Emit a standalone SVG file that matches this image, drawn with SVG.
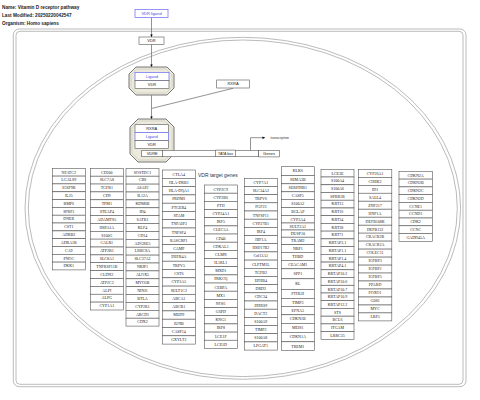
<svg xmlns="http://www.w3.org/2000/svg" width="480" height="400" viewBox="0 0 480 400">
<defs>
<marker id="arr" viewBox="0 0 6 6" refX="6" refY="3" markerWidth="3.2" markerHeight="3.2" orient="auto"><path d="M0,0 L6,3 L0,6 Z" fill="#000"/></marker>
<style>
.bg{fill:#fff}
.comp{fill:none;stroke:#aaa;stroke-width:0.8}
.cx{fill:#ebeadc;stroke:#777;stroke-width:1}
.cx2{fill:none;stroke:#c8c8bc;stroke-width:0.6}
.ln{fill:none;stroke:#777;stroke-width:0.8}
.bx{fill:#fff;stroke:#555;stroke-width:0.6}
.bl{fill:#fff;stroke:#7a7af0;stroke-width:0.8}
.st{font-family:"Liberation Sans",Arial,sans-serif;font-size:4px;text-anchor:middle;fill:#222}
.sb{font-family:"Liberation Sans",Arial,sans-serif;font-size:4px;text-anchor:middle;fill:#4a4ae0}
.hd{font-family:"Liberation Sans",Arial,sans-serif;font-size:4.7px;font-weight:bold;fill:#222}
.lb{font-family:"Liberation Sans",Arial,sans-serif;font-size:5px;fill:#333}
.tr{font-family:"Liberation Sans",Arial,sans-serif;font-size:3.4px;fill:#333}
.gn rect{fill:#fff;stroke:#555;stroke-width:0.6}
.gn text{font-family:"Liberation Serif","Times New Roman",serif;font-size:4px;text-anchor:middle;fill:#222}
</style>
</defs>
<rect class="bg" x="0" y="0" width="480" height="400"/>
<g id="header">
<text class="hd" x="2" y="9">Name: Vitamin D receptor pathway</text>
<text class="hd" x="2" y="16.8">Last Modified: 20250220042547</text>
<text class="hd" x="2" y="25">Organism: Homo sapiens</text>
</g>
<g id="compartments">
<rect class="comp" x="13.3" y="29" width="452.7" height="357.7" rx="6"/>
<rect class="comp" x="16" y="31.3" width="447" height="353" rx="4"/>
<ellipse class="comp" cx="242.8" cy="208.3" rx="217.8" ry="171"/>
<ellipse class="comp" cx="242.8" cy="208.3" rx="214.5" ry="168.3"/>
</g>
<g id="connectors">
<line class="ln" x1="151.5" y1="17.5" x2="151.5" y2="37" marker-end="url(#arr)"/>
<line class="ln" x1="151.5" y1="44.3" x2="151.5" y2="67" marker-end="url(#arr)"/>
<line class="ln" x1="151.5" y1="95" x2="151.5" y2="119" marker-end="url(#arr)"/>
<line class="ln" x1="233" y1="88.3" x2="151.5" y2="108.5"/>
<path class="ln" d="M250.5,150 V137.7 H265" marker-end="url(#arr)"/>
</g>
<g id="vdr-ligand"><rect class="bl" x="135" y="9.5" width="33" height="8"/><text class="sb" x="151.5" y="14.9">VDR ligand</text></g>
<g id="vdr"><rect class="bx" x="139" y="37" width="25" height="7.3"/><text class="st" x="151.5" y="42">VDR</text></g>
<g id="complex1">
<polygon class="cx" points="136,67 167,67 174,74 174,88 167,95 136,95 129,88 129,74"/>
<polygon class="cx2" points="137,69 166,69 172,75 172,87 166,93 137,93 131,87 131,75"/>
<rect class="bl" x="135" y="72.5" width="34" height="8"/><text class="sb" x="152" y="77.9">Ligand</text>
<rect class="bx" x="135" y="80.5" width="34" height="8"/><text class="st" x="152" y="85.9">VDR</text>
</g>
<g id="rxra"><rect class="bx" x="216.7" y="80" width="32.6" height="8"/><text class="st" x="233" y="85.4">RXRA</text></g>
<g id="complex2">
<polygon class="cx" points="138,119 166,119 174,127 174,154 166,162 138,162 130,154 130,127"/>
<polygon class="cx2" points="139,121 165,121 172,128 172,153 165,160 139,160 132,153 132,128"/>
<rect class="bx" x="135" y="124.7" width="33.5" height="7.8"/><text class="st" x="151.7" y="130">RXRA</text>
<rect class="bl" x="135" y="132.5" width="33.5" height="8"/><text class="sb" x="151.7" y="137.9">Ligand</text>
<rect class="bx" x="135" y="140.5" width="33.5" height="8"/><text class="st" x="151.7" y="145.9">VDR</text>
</g>
<g id="dna"><rect class="bx" x="162.7" y="150.3" width="96" height="6.4"/></g>
<g id="vdre"><rect class="bx" x="141.7" y="150.3" width="21" height="6.4"/><text class="st" x="152.2" y="154.9">VDRE</text></g>
<g id="tata"><rect class="bx" x="215.7" y="150.1" width="19.6" height="6.6"/><text class="st" style="font-size:3.6px" x="225.5" y="154.7">TATA box</text></g>
<g id="genes"><rect class="bx" x="258.7" y="150.3" width="20.6" height="6.6"/><text class="st" x="269" y="154.9">Genes</text></g>
<g id="transcription"><text class="tr" x="270.5" y="139">transcription</text></g>
<g id="label-target"><text class="lb" x="198" y="176.8">VDR target genes</text></g>

<g id="col1" class="gn">
<g id="c1-NFATC2" transform="translate(52.3,168.3)"><rect width="33" height="7.8"/><text x="16.5" y="5.3">NFATC2</text></g>
<g id="c1-LGALS9" transform="translate(52.3,176.1)"><rect width="33" height="7.8"/><text x="16.5" y="5.3">LGALS9</text></g>
<g id="c1-IGSF9B" transform="translate(52.3,183.9)"><rect width="33" height="7.8"/><text x="16.5" y="5.3">IGSF9B</text></g>
<g id="c1-IL25" transform="translate(52.3,191.8)"><rect width="33" height="7.8"/><text x="16.5" y="5.3">IL25</text></g>
<g id="c1-BMP6" transform="translate(52.3,199.6)"><rect width="33" height="7.8"/><text x="16.5" y="5.3">BMP6</text></g>
<g id="c1-SFRP1" transform="translate(52.3,207.4)"><rect width="33" height="7.8"/><text x="16.5" y="5.3">SFRP1</text></g>
<g id="c1-DNER" transform="translate(52.3,215.2)"><rect width="33" height="7.8"/><text x="16.5" y="5.3">DNER</text></g>
<g id="c1-CST1" transform="translate(52.3,223)"><rect width="33" height="7.8"/><text x="16.5" y="5.3">CST1</text></g>
<g id="c1-ADRB2" transform="translate(52.3,230.9)"><rect width="33" height="7.8"/><text x="16.5" y="5.3">ADRB2</text></g>
<g id="c1-ADRA1B" transform="translate(52.3,238.7)"><rect width="33" height="7.8"/><text x="16.5" y="5.3">ADRA1B</text></g>
<g id="c1-CA9" transform="translate(52.3,246.5)"><rect width="33" height="7.8"/><text x="16.5" y="5.3">CA9</text></g>
<g id="c1-PNOC" transform="translate(52.3,254.3)"><rect width="33" height="7.8"/><text x="16.5" y="5.3">PNOC</text></g>
<g id="c1-DKK1" transform="translate(52.3,262.1)"><rect width="33" height="7.8"/><text x="16.5" y="5.3">DKK1</text></g>
</g>

<g id="col2" class="gn">
<g id="c2-CD200" transform="translate(90.3,168.3)"><rect width="33" height="7.9"/><text x="16.5" y="5.3">CD200</text></g>
<g id="c2-SLC7A8" transform="translate(90.3,176.2)"><rect width="33" height="7.9"/><text x="16.5" y="5.3">SLC7A8</text></g>
<g id="c2-TGFB1" transform="translate(90.3,184)"><rect width="33" height="7.9"/><text x="16.5" y="5.3">TGFB1</text></g>
<g id="c2-CD9" transform="translate(90.3,191.9)"><rect width="33" height="7.9"/><text x="16.5" y="5.3">CD9</text></g>
<g id="c2-TPM1" transform="translate(90.3,199.8)"><rect width="33" height="7.9"/><text x="16.5" y="5.3">TPM1</text></g>
<g id="c2-STEAP4" transform="translate(90.3,207.7)"><rect width="33" height="7.9"/><text x="16.5" y="5.3">STEAP4</text></g>
<g id="c2-ADAMTS5" transform="translate(90.3,215.5)"><rect width="33" height="7.9"/><text x="16.5" y="5.3">ADAMTS5</text></g>
<g id="c2-HSPA1A" transform="translate(90.3,223.4)"><rect width="33" height="7.9"/><text x="16.5" y="5.3">HSPA1A</text></g>
<g id="c2-S100G" transform="translate(90.3,231.3)"><rect width="33" height="7.9"/><text x="16.5" y="5.3">S100G</text></g>
<g id="c2-CALB1" transform="translate(90.3,239.1)"><rect width="33" height="7.9"/><text x="16.5" y="5.3">CALB1</text></g>
<g id="c2-ATP2B1" transform="translate(90.3,247)"><rect width="33" height="7.9"/><text x="16.5" y="5.3">ATP2B1</text></g>
<g id="c2-SLC8A1" transform="translate(90.3,254.9)"><rect width="33" height="7.9"/><text x="16.5" y="5.3">SLC8A1</text></g>
<g id="c2-TNFRSF11B" transform="translate(90.3,262.7)"><rect width="33" height="7.9"/><text x="16.5" y="5.3">TNFRSF11B</text></g>
<g id="c2-CLDN2" transform="translate(90.3,270.6)"><rect width="33" height="7.9"/><text x="16.5" y="5.3">CLDN2</text></g>
<g id="c2-ATP2C2" transform="translate(90.3,278.5)"><rect width="33" height="7.9"/><text x="16.5" y="5.3">ATP2C2</text></g>
<g id="c2-ALPI" transform="translate(90.3,286.4)"><rect width="33" height="7.9"/><text x="16.5" y="5.3">ALPI</text></g>
<g id="c2-ALPG" transform="translate(90.3,294.2)"><rect width="33" height="7.9"/><text x="16.5" y="5.3">ALPG</text></g>
<g id="c2-CYP1A1" transform="translate(90.3,302.1)"><rect width="33" height="7.9"/><text x="16.5" y="5.3">CYP1A1</text></g>
</g>

<g id="col3" class="gn">
<g id="c3-SOSTDC1" transform="translate(126,168.3)"><rect width="33" height="7.9"/><text x="16.5" y="5.3">SOSTDC1</text></g>
<g id="c3-CBS" transform="translate(126,176.2)"><rect width="33" height="7.9"/><text x="16.5" y="5.3">CBS</text></g>
<g id="c3-ASAP2" transform="translate(126,184.1)"><rect width="33" height="7.9"/><text x="16.5" y="5.3">ASAP2</text></g>
<g id="c3-IL12A" transform="translate(126,192)"><rect width="33" height="7.9"/><text x="16.5" y="5.3">IL12A</text></g>
<g id="c3-KDM6B" transform="translate(126,199.9)"><rect width="33" height="7.9"/><text x="16.5" y="5.3">KDM6B</text></g>
<g id="c3-ID4" transform="translate(126,207.8)"><rect width="33" height="7.9"/><text x="16.5" y="5.3">ID4</text></g>
<g id="c3-SATB1" transform="translate(126,215.6)"><rect width="33" height="7.9"/><text x="16.5" y="5.3">SATB1</text></g>
<g id="c3-KLF4" transform="translate(126,223.5)"><rect width="33" height="7.9"/><text x="16.5" y="5.3">KLF4</text></g>
<g id="c3-CD14" transform="translate(126,231.4)"><rect width="33" height="7.9"/><text x="16.5" y="5.3">CD14</text></g>
<g id="c3-ADGRE5" transform="translate(126,239.3)"><rect width="33" height="7.9"/><text x="16.5" y="5.3">ADGRE5</text></g>
<g id="c3-LRRC8A" transform="translate(126,247.2)"><rect width="33" height="7.9"/><text x="16.5" y="5.3">LRRC8A</text></g>
<g id="c3-SLC37A2" transform="translate(126,255.1)"><rect width="33" height="7.9"/><text x="16.5" y="5.3">SLC37A2</text></g>
<g id="c3-NRIP1" transform="translate(126,263)"><rect width="33" height="7.9"/><text x="16.5" y="5.3">NRIP1</text></g>
<g id="c3-ALOX5" transform="translate(126,270.9)"><rect width="33" height="7.9"/><text x="16.5" y="5.3">ALOX5</text></g>
<g id="c3-MYO5B" transform="translate(126,278.8)"><rect width="33" height="7.9"/><text x="16.5" y="5.3">MYO5B</text></g>
<g id="c3-NINJ1" transform="translate(126,286.7)"><rect width="33" height="7.9"/><text x="16.5" y="5.3">NINJ1</text></g>
<g id="c3-BTLA" transform="translate(126,294.5)"><rect width="33" height="7.9"/><text x="16.5" y="5.3">BTLA</text></g>
<g id="c3-CYP2R1" transform="translate(126,302.4)"><rect width="33" height="7.9"/><text x="16.5" y="5.3">CYP2R1</text></g>
<g id="c3-ABCD1" transform="translate(126,310.3)"><rect width="33" height="7.9"/><text x="16.5" y="5.3">ABCD1</text></g>
<g id="c3-CDX2" transform="translate(126,318.2)"><rect width="33" height="7.9"/><text x="16.5" y="5.3">CDX2</text></g>
</g>

<g id="col4" class="gn">
<g id="c4-CTLA4" transform="translate(162.3,170)"><rect width="33" height="8.3"/><text x="16.5" y="5.5">CTLA4</text></g>
<g id="c4-HLA-DRB1" transform="translate(162.3,178.3)"><rect width="33" height="8.3"/><text x="16.5" y="5.5">HLA-DRB1</text></g>
<g id="c4-HLA-DQA1" transform="translate(162.3,186.6)"><rect width="33" height="8.3"/><text x="16.5" y="5.5">HLA-DQA1</text></g>
<g id="c4-PRDM1" transform="translate(162.3,194.9)"><rect width="33" height="8.3"/><text x="16.5" y="5.5">PRDM1</text></g>
<g id="c4-PTGER4" transform="translate(162.3,203.2)"><rect width="33" height="8.3"/><text x="16.5" y="5.5">PTGER4</text></g>
<g id="c4-STAM" transform="translate(162.3,211.5)"><rect width="33" height="8.3"/><text x="16.5" y="5.5">STAM</text></g>
<g id="c4-TNFAIP3" transform="translate(162.3,219.7)"><rect width="33" height="8.3"/><text x="16.5" y="5.5">TNFAIP3</text></g>
<g id="c4-TNFSF4" transform="translate(162.3,228)"><rect width="33" height="8.3"/><text x="16.5" y="5.5">TNFSF4</text></g>
<g id="c4-RASGRP1" transform="translate(162.3,236.3)"><rect width="33" height="8.3"/><text x="16.5" y="5.5">RASGRP1</text></g>
<g id="c4-CAMP" transform="translate(162.3,244.6)"><rect width="33" height="8.3"/><text x="16.5" y="5.5">CAMP</text></g>
<g id="c4-DEFB4A" transform="translate(162.3,252.9)"><rect width="33" height="8.3"/><text x="16.5" y="5.5">DEFB4A</text></g>
<g id="c4-TRPV5" transform="translate(162.3,261.2)"><rect width="33" height="8.3"/><text x="16.5" y="5.5">TRPV5</text></g>
<g id="c4-CST6" transform="translate(162.3,269.5)"><rect width="33" height="8.3"/><text x="16.5" y="5.5">CST6</text></g>
<g id="c4-CYP3A5" transform="translate(162.3,277.8)"><rect width="33" height="8.3"/><text x="16.5" y="5.5">CYP3A5</text></g>
<g id="c4-SULT1C2" transform="translate(162.3,286.1)"><rect width="33" height="8.3"/><text x="16.5" y="5.5">SULT1C2</text></g>
<g id="c4-ABCA1" transform="translate(162.3,294.4)"><rect width="33" height="8.3"/><text x="16.5" y="5.5">ABCA1</text></g>
<g id="c4-ABCB1" transform="translate(162.3,302.6)"><rect width="33" height="8.3"/><text x="16.5" y="5.5">ABCB1</text></g>
<g id="c4-MED9" transform="translate(162.3,310.9)"><rect width="33" height="8.3"/><text x="16.5" y="5.5">MED9</text></g>
<g id="c4-JUNB" transform="translate(162.3,319.2)"><rect width="33" height="8.3"/><text x="16.5" y="5.5">JUNB</text></g>
<g id="c4-CASP14" transform="translate(162.3,327.5)"><rect width="33" height="8.3"/><text x="16.5" y="5.5">CASP14</text></g>
<g id="c4-GXYLT2" transform="translate(162.3,335.8)"><rect width="33" height="8.3"/><text x="16.5" y="5.5">GXYLT2</text></g>
</g>

<g id="col5" class="gn">
<g id="c5-CYP2C9" transform="translate(204.3,185)"><rect width="33" height="8.2"/><text x="16.5" y="5.5">CYP2C9</text></g>
<g id="c5-CYP2B6" transform="translate(204.3,193.2)"><rect width="33" height="8.2"/><text x="16.5" y="5.5">CYP2B6</text></g>
<g id="c5-PTH" transform="translate(204.3,201.3)"><rect width="33" height="8.2"/><text x="16.5" y="5.5">PTH</text></g>
<g id="c5-CYP24A1" transform="translate(204.3,209.5)"><rect width="33" height="8.2"/><text x="16.5" y="5.5">CYP24A1</text></g>
<g id="c5-IRF5" transform="translate(204.3,217.7)"><rect width="33" height="8.2"/><text x="16.5" y="5.5">IRF5</text></g>
<g id="c5-CLEC5A" transform="translate(204.3,225.9)"><rect width="33" height="8.2"/><text x="16.5" y="5.5">CLEC5A</text></g>
<g id="c5-CD40" transform="translate(204.3,234)"><rect width="33" height="8.2"/><text x="16.5" y="5.5">CD40</text></g>
<g id="c5-CDKAL1" transform="translate(204.3,242.2)"><rect width="33" height="8.2"/><text x="16.5" y="5.5">CDKAL1</text></g>
<g id="c5-CLMN" transform="translate(204.3,250.4)"><rect width="33" height="8.2"/><text x="16.5" y="5.5">CLMN</text></g>
<g id="c5-IL1RL1" transform="translate(204.3,258.5)"><rect width="33" height="8.2"/><text x="16.5" y="5.5">IL1RL1</text></g>
<g id="c5-MXD1" transform="translate(204.3,266.7)"><rect width="33" height="8.2"/><text x="16.5" y="5.5">MXD1</text></g>
<g id="c5-PRKCQ" transform="translate(204.3,274.9)"><rect width="33" height="8.2"/><text x="16.5" y="5.5">PRKCQ</text></g>
<g id="c5-CEBPA" transform="translate(204.3,283)"><rect width="33" height="8.2"/><text x="16.5" y="5.5">CEBPA</text></g>
<g id="c5-MX1" transform="translate(204.3,291.2)"><rect width="33" height="8.2"/><text x="16.5" y="5.5">MX1</text></g>
<g id="c5-NOS1" transform="translate(204.3,299.4)"><rect width="33" height="8.2"/><text x="16.5" y="5.5">NOS1</text></g>
<g id="c5-G6PD" transform="translate(204.3,307.6)"><rect width="33" height="8.2"/><text x="16.5" y="5.5">G6PD</text></g>
<g id="c5-KNG1" transform="translate(204.3,315.7)"><rect width="33" height="8.2"/><text x="16.5" y="5.5">KNG1</text></g>
<g id="c5-IRF8" transform="translate(204.3,323.9)"><rect width="33" height="8.2"/><text x="16.5" y="5.5">IRF8</text></g>
<g id="c5-LCE1F" transform="translate(204.3,332.1)"><rect width="33" height="8.2"/><text x="16.5" y="5.5">LCE1F</text></g>
<g id="c5-LCE1D" transform="translate(204.3,340.2)"><rect width="33" height="8.2"/><text x="16.5" y="5.5">LCE1D</text></g>
</g>

<g id="col6" class="gn">
<g id="c6-CYP7A1" transform="translate(244.3,178.3)"><rect width="33" height="8.2"/><text x="16.5" y="5.5">CYP7A1</text></g>
<g id="c6-SLC34A2" transform="translate(244.3,186.5)"><rect width="33" height="8.2"/><text x="16.5" y="5.5">SLC34A2</text></g>
<g id="c6-TRPV6" transform="translate(244.3,194.7)"><rect width="33" height="8.2"/><text x="16.5" y="5.5">TRPV6</text></g>
<g id="c6-FGF23" transform="translate(244.3,202.8)"><rect width="33" height="8.2"/><text x="16.5" y="5.5">FGF23</text></g>
<g id="c6-TNFSF11" transform="translate(244.3,211)"><rect width="33" height="8.2"/><text x="16.5" y="5.5">TNFSF11</text></g>
<g id="c6-CYP27B1" transform="translate(244.3,219.2)"><rect width="33" height="8.2"/><text x="16.5" y="5.5">CYP27B1</text></g>
<g id="c6-IRF4" transform="translate(244.3,227.4)"><rect width="33" height="8.2"/><text x="16.5" y="5.5">IRF4</text></g>
<g id="c6-HIF1A" transform="translate(244.3,235.6)"><rect width="33" height="8.2"/><text x="16.5" y="5.5">HIF1A</text></g>
<g id="c6-HSD17B2" transform="translate(244.3,243.7)"><rect width="33" height="8.2"/><text x="16.5" y="5.5">HSD17B2</text></g>
<g id="c6-COL13A1" transform="translate(244.3,251.9)"><rect width="33" height="8.2"/><text x="16.5" y="5.5">Col13A1</text></g>
<g id="c6-CLPTM1L" transform="translate(244.3,260.1)"><rect width="33" height="8.2"/><text x="16.5" y="5.5">CLPTM1L</text></g>
<g id="c6-TGFB2" transform="translate(244.3,268.3)"><rect width="33" height="8.2"/><text x="16.5" y="5.5">TGFB2</text></g>
<g id="c6-EPHB4" transform="translate(244.3,276.5)"><rect width="33" height="8.2"/><text x="16.5" y="5.5">EPHB4</text></g>
<g id="c6-DRD2" transform="translate(244.3,284.6)"><rect width="33" height="8.2"/><text x="16.5" y="5.5">DRD2</text></g>
<g id="c6-CDC34" transform="translate(244.3,292.8)"><rect width="33" height="8.2"/><text x="16.5" y="5.5">CDC34</text></g>
<g id="c6-DHRS9" transform="translate(244.3,301)"><rect width="33" height="8.2"/><text x="16.5" y="5.5">DHRS9</text></g>
<g id="c6-DACT2" transform="translate(244.3,309.2)"><rect width="33" height="8.2"/><text x="16.5" y="5.5">DACT2</text></g>
<g id="c6-S100A9" transform="translate(244.3,317.4)"><rect width="33" height="8.2"/><text x="16.5" y="5.5">S100A9</text></g>
<g id="c6-TIMP2" transform="translate(244.3,325.5)"><rect width="33" height="8.2"/><text x="16.5" y="5.5">TIMP2</text></g>
<g id="c6-S100A8" transform="translate(244.3,333.7)"><rect width="33" height="8.2"/><text x="16.5" y="5.5">S100A8</text></g>
<g id="c6-LPGAT1" transform="translate(244.3,341.9)"><rect width="33" height="8.2"/><text x="16.5" y="5.5">LPGAT1</text></g>
</g>

<g id="col7" class="gn">
<g id="c7-KLK6" transform="translate(281.3,166.7)"><rect width="33" height="8.8"/><text x="16.5" y="5.8">KLK6</text></g>
<g id="c7-SEMA3B" transform="translate(281.3,175.5)"><rect width="33" height="8.3"/><text x="16.5" y="5.5">SEMA3B</text></g>
<g id="c7-SERPINB1" transform="translate(281.3,183.8)"><rect width="33" height="8"/><text x="16.5" y="5.4">SERPINB1</text></g>
<g id="c7-CASP5" transform="translate(281.3,191.8)"><rect width="33" height="7.5"/><text x="16.5" y="5.1">CASP5</text></g>
<g id="c7-S100A2" transform="translate(281.3,199.3)"><rect width="33" height="8.2"/><text x="16.5" y="5.5">S100A2</text></g>
<g id="c7-BGLAP" transform="translate(281.3,207.5)"><rect width="33" height="8"/><text x="16.5" y="5.4">BGLAP</text></g>
<g id="c7-CYP3A4" transform="translate(281.3,215.5)"><rect width="33" height="7.5"/><text x="16.5" y="5.1">CYP3A4</text></g>
<g id="c7-SULT2A1" transform="translate(281.3,223)"><rect width="33" height="7"/><text x="16.5" y="4.9">SULT2A1</text></g>
<g id="c7-DUSP10" transform="translate(281.3,230)"><rect width="33" height="7.2"/><text x="16.5" y="5">DUSP10</text></g>
<g id="c7-TRAM2" transform="translate(281.3,237.2)"><rect width="33" height="7.5"/><text x="16.5" y="5.1">TRAM2</text></g>
<g id="c7-NRP1" transform="translate(281.3,244.7)"><rect width="33" height="7.6"/><text x="16.5" y="5.2">NRP1</text></g>
<g id="c7-THBD" transform="translate(281.3,252.3)"><rect width="33" height="8"/><text x="16.5" y="5.4">THBD</text></g>
<g id="c7-CEACAM1" transform="translate(281.3,260.3)"><rect width="33" height="8.5"/><text x="16.5" y="5.6">CEACAM1</text></g>
<g id="c7-SPP1" transform="translate(281.3,268.8)"><rect width="33" height="10"/><text x="16.5" y="6.4">SPP1</text></g>
<g id="c7-KL" transform="translate(281.3,278.8)"><rect width="33" height="10.5"/><text x="16.5" y="6.6">KL</text></g>
<g id="c7-PTHLH" transform="translate(281.3,289.3)"><rect width="33" height="9"/><text x="16.5" y="5.9">PTHLH</text></g>
<g id="c7-TIMP3" transform="translate(281.3,298.3)"><rect width="33" height="8"/><text x="16.5" y="5.4">TIMP3</text></g>
<g id="c7-EFNA5" transform="translate(281.3,306.3)"><rect width="33" height="8.5"/><text x="16.5" y="5.6">EFNA5</text></g>
<g id="c7-CDKN1B" transform="translate(281.3,314.8)"><rect width="33" height="8.5"/><text x="16.5" y="5.6">CDKN1B</text></g>
<g id="c7-MEIS1" transform="translate(281.3,323.3)"><rect width="33" height="9"/><text x="16.5" y="5.9">MEIS1</text></g>
<g id="c7-CDKN1A" transform="translate(281.3,332.3)"><rect width="33" height="9.5"/><text x="16.5" y="6.1">CDKN1A</text></g>
<g id="c7-TREM1" transform="translate(281.3,341.8)"><rect width="33" height="8.9"/><text x="16.5" y="5.8">TREM1</text></g>
</g>

<g id="col8" class="gn">
<g id="c8-LCE3E" transform="translate(321,169.3)"><rect width="33" height="7.7"/><text x="16.5" y="5.25">LCE3E</text></g>
<g id="c8-S100A4" transform="translate(321,177)"><rect width="33" height="7.7"/><text x="16.5" y="5.25">S100A4</text></g>
<g id="c8-S100A6" transform="translate(321,184.8)"><rect width="33" height="7.7"/><text x="16.5" y="5.25">S100A6</text></g>
<g id="c8-SPRR1B" transform="translate(321,192.5)"><rect width="33" height="7.7"/><text x="16.5" y="5.25">SPRR1B</text></g>
<g id="c8-KRT13" transform="translate(321,200.2)"><rect width="33" height="7.7"/><text x="16.5" y="5.25">KRT13</text></g>
<g id="c8-KRT16" transform="translate(321,208)"><rect width="33" height="7.7"/><text x="16.5" y="5.25">KRT16</text></g>
<g id="c8-KRT34" transform="translate(321,215.7)"><rect width="33" height="7.7"/><text x="16.5" y="5.25">KRT34</text></g>
<g id="c8-KRT38" transform="translate(321,223.4)"><rect width="33" height="7.7"/><text x="16.5" y="5.25">KRT38</text></g>
<g id="c8-KRT71" transform="translate(321,231.1)"><rect width="33" height="7.7"/><text x="16.5" y="5.25">KRT71</text></g>
<g id="c8-KRTAP3.1" transform="translate(321,238.9)"><rect width="33" height="7.7"/><text x="16.5" y="5.25">KRTAP3.1</text></g>
<g id="c8-KRTAP1.1" transform="translate(321,246.6)"><rect width="33" height="7.7"/><text x="16.5" y="5.25">KRTAP1.1</text></g>
<g id="c8-KRTAP1.4" transform="translate(321,254.3)"><rect width="33" height="7.7"/><text x="16.5" y="5.25">KRTAP1.4</text></g>
<g id="c8-KRTAP4.1" transform="translate(321,262.1)"><rect width="33" height="7.7"/><text x="16.5" y="5.25">KRTAP4.1</text></g>
<g id="c8-KRTAP10.2" transform="translate(321,269.8)"><rect width="33" height="7.7"/><text x="16.5" y="5.25">KRTAP10.2</text></g>
<g id="c8-KRTAP10.6" transform="translate(321,277.5)"><rect width="33" height="7.7"/><text x="16.5" y="5.25">KRTAP10.6</text></g>
<g id="c8-KRTAP10.7" transform="translate(321,285.3)"><rect width="33" height="7.7"/><text x="16.5" y="5.25">KRTAP10.7</text></g>
<g id="c8-KRTAP10.9" transform="translate(321,293)"><rect width="33" height="7.7"/><text x="16.5" y="5.25">KRTAP10.9</text></g>
<g id="c8-KRTAP12.2" transform="translate(321,300.7)"><rect width="33" height="7.7"/><text x="16.5" y="5.25">KRTAP12.2</text></g>
<g id="c8-STS" transform="translate(321,308.4)"><rect width="33" height="7.7"/><text x="16.5" y="5.25">STS</text></g>
<g id="c8-BCL6" transform="translate(321,316.2)"><rect width="33" height="7.7"/><text x="16.5" y="5.25">BCL6</text></g>
<g id="c8-ITGAM" transform="translate(321,323.9)"><rect width="33" height="7.7"/><text x="16.5" y="5.25">ITGAM</text></g>
<g id="c8-LRRC25" transform="translate(321,331.6)"><rect width="33" height="7.7"/><text x="16.5" y="5.25">LRRC25</text></g>
</g>

<g id="col9" class="gn">
<g id="c9-CYP26A1" transform="translate(358.3,169.3)"><rect width="33.5" height="8"/><text x="16.75" y="5.4">CYP26A1</text></g>
<g id="c9-CHEK2" transform="translate(358.3,177.3)"><rect width="33.5" height="8"/><text x="16.75" y="5.4">CHEK2</text></g>
<g id="c9-ID1" transform="translate(358.3,185.3)"><rect width="33.5" height="8"/><text x="16.75" y="5.4">ID1</text></g>
<g id="c9-SALL4" transform="translate(358.3,193.2)"><rect width="33.5" height="8"/><text x="16.75" y="5.4">SALL4</text></g>
<g id="c9-ZNF217" transform="translate(358.3,201.2)"><rect width="33.5" height="8"/><text x="16.75" y="5.4">ZNF217</text></g>
<g id="c9-HNF1A" transform="translate(358.3,209.2)"><rect width="33.5" height="8"/><text x="16.75" y="5.4">HNF1A</text></g>
<g id="c9-DEFB108B" transform="translate(358.3,217.2)"><rect width="33.5" height="8"/><text x="16.75" y="5.4">DEFB108B</text></g>
<g id="c9-DEFB132" transform="translate(358.3,225.2)"><rect width="33.5" height="8"/><text x="16.75" y="5.4">DEFB132</text></g>
<g id="c9-CRACR2B" transform="translate(358.3,233.1)"><rect width="33.5" height="8"/><text x="16.75" y="5.4">CRACR2B</text></g>
<g id="c9-CRACR2A" transform="translate(358.3,241.1)"><rect width="33.5" height="8"/><text x="16.75" y="5.4">CRACR2A</text></g>
<g id="c9-COLEC11" transform="translate(358.3,249.1)"><rect width="33.5" height="8"/><text x="16.75" y="5.4">COLEC11</text></g>
<g id="c9-IGFBP3" transform="translate(358.3,257.1)"><rect width="33.5" height="8"/><text x="16.75" y="5.4">IGFBP3</text></g>
<g id="c9-IGFBP1" transform="translate(358.3,265.1)"><rect width="33.5" height="8"/><text x="16.75" y="5.4">IGFBP1</text></g>
<g id="c9-IGFBP5" transform="translate(358.3,273)"><rect width="33.5" height="8"/><text x="16.75" y="5.4">IGFBP5</text></g>
<g id="c9-PPARD" transform="translate(358.3,281)"><rect width="33.5" height="8"/><text x="16.75" y="5.4">PPARD</text></g>
<g id="c9-FOXO1" transform="translate(358.3,289)"><rect width="33.5" height="8"/><text x="16.75" y="5.4">FOXO1</text></g>
<g id="c9-G0S2" transform="translate(358.3,297)"><rect width="33.5" height="8"/><text x="16.75" y="5.4">G0S2</text></g>
<g id="c9-MYC" transform="translate(358.3,305)"><rect width="33.5" height="8"/><text x="16.75" y="5.4">MYC</text></g>
<g id="c9-LRP5" transform="translate(358.3,312.9)"><rect width="33.5" height="8"/><text x="16.75" y="5.4">LRP5</text></g>
</g>

<g id="col10" class="gn">
<g id="c10-CDKN2A" transform="translate(399,171.3)"><rect width="33.3" height="7.8"/><text x="16.65" y="5.3">CDKN2A</text></g>
<g id="c10-CDKN2B" transform="translate(399,179.1)"><rect width="33.3" height="7.8"/><text x="16.65" y="5.3">CDKN2B</text></g>
<g id="c10-CDKN2C" transform="translate(399,186.9)"><rect width="33.3" height="7.8"/><text x="16.65" y="5.3">CDKN2C</text></g>
<g id="c10-CDKN2D" transform="translate(399,194.6)"><rect width="33.3" height="7.8"/><text x="16.65" y="5.3">CDKN2D</text></g>
<g id="c10-CCNE1" transform="translate(399,202.4)"><rect width="33.3" height="7.8"/><text x="16.65" y="5.3">CCNE1</text></g>
<g id="c10-CCND1" transform="translate(399,210.2)"><rect width="33.3" height="7.8"/><text x="16.65" y="5.3">CCND1</text></g>
<g id="c10-CDK2" transform="translate(399,218)"><rect width="33.3" height="7.8"/><text x="16.65" y="5.3">CDK2</text></g>
<g id="c10-CCNC" transform="translate(399,225.8)"><rect width="33.3" height="7.8"/><text x="16.65" y="5.3">CCNC</text></g>
<g id="c10-GADD45A" transform="translate(399,233.5)"><rect width="33.3" height="7.8"/><text x="16.65" y="5.3">GADD45A</text></g>
</g>
</svg>
